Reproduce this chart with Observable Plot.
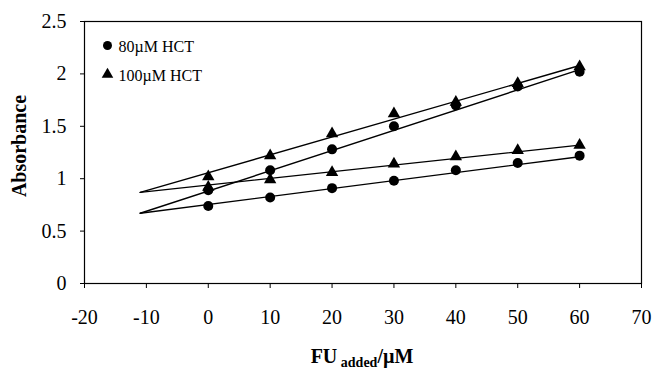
<!DOCTYPE html>
<html>
<head>
<meta charset="utf-8">
<script src="https://cdn.jsdelivr.net/npm/d3@7"></script>
<script src="https://cdn.jsdelivr.net/npm/@observablehq/plot@0.6"></script>
<style>
  html, body { margin: 0; padding: 0; background: white; }
</style>
</head>
<body>
<div id="chart"></div>
<script>
// ---- data ----
const xValues = [0, 10, 20, 30, 40, 50, 60];
const circleUpper = [0.89, 1.08, 1.28, 1.50, 1.70, 1.88, 2.02];
const circleLower = [0.74, 0.82, 0.91, 0.98, 1.08, 1.15, 1.22];
const triangleUpper = [1.02, 1.22, 1.43, 1.62, 1.73, 1.91, 2.07];
const triangleLower = [0.92, 0.99, 1.06, 1.14, 1.21, 1.27, 1.32];
// fitted lines (extended back to the H-point)
const fitX = [-11, 60];
const fitCircleUpper = [0.67, 2.04];
const fitCircleLower = [0.67, 1.21];
const fitTriangleUpper = [0.87, 2.08];
const fitTriangleLower = [0.87, 1.32];
const xTicks = [-20, -10, 0, 10, 20, 30, 40, 50, 60, 70];
const yTicks = [0, 0.5, 1, 1.5, 2, 2.5];
const legendLabels = ["80\u00B5M HCT", "100\u00B5M HCT"];
const yTitle = "Absorbance";
const xTitleMain = "FU";
const xTitleSub = "added";
const xTitleEnd = "/\u00B5M";

// ---- build tables ----
const pts = (ys, s) => xValues.map((x, i) => ({x, y: ys[i], s}));
const circles = [...pts(circleUpper, "c"), ...pts(circleLower, "c")];
const triangles = [...pts(triangleUpper, "t"), ...pts(triangleLower, "t")];
const fit = (ys, k) => fitX.map((x, i) => ({x, y: ys[i], k}));
const fits = [
  ...fit(fitCircleUpper, "cu"), ...fit(fitCircleLower, "cl"),
  ...fit(fitTriangleUpper, "tu"), ...fit(fitTriangleLower, "tl")
];

const serif = "'Liberation Serif', 'Times New Roman', serif";

const plot = Plot.plot({
  width: 655,
  height: 369,
  marginTop: 21,
  marginRight: 14,
  marginBottom: 86,
  marginLeft: 84,
  style: {fontFamily: serif, fontSize: "20px", color: "black", background: "white", overflow: "visible"},
  x: {domain: [-20, 70], ticks: xTicks, tickFormat: d => String(d), tickSize: 5, tickPadding: 21, label: null},
  y: {domain: [0, 2.5], ticks: yTicks, tickFormat: d => String(d), tickSize: 4, tickPadding: 14, label: null},
  marks: [
    Plot.frame({stroke: "black", strokeWidth: 1.2}),
    Plot.line(fits, {x: "x", y: "y", z: "k", stroke: "black", strokeWidth: 1.4}),
    Plot.dot(circles, {x: "x", y: "y", symbol: "circle", r: 5, fill: "black"}),
    Plot.dot(triangles, {x: "x", y: "y", symbol: "triangle", r: 4.6, fill: "black"}),
    // legend
    Plot.dot([0], {frameAnchor: "top-left", dx: 23, dy: 24, symbol: "circle", r: 4.5, fill: "black"}),
    Plot.dot([0], {frameAnchor: "top-left", dx: 23, dy: 53, symbol: "triangle", r: 4.3, fill: "black"}),
    Plot.text([legendLabels[0]], {text: d => d, frameAnchor: "top-left", dx: 34, dy: 25, textAnchor: "start", lineAnchor: "middle", fontSize: 16, fontFamily: serif, fill: "black"}),
    Plot.text([legendLabels[1]], {text: d => d, frameAnchor: "top-left", dx: 34, dy: 54, textAnchor: "start", lineAnchor: "middle", fontSize: 16, fontFamily: serif, fill: "black"})
  ]
});

document.getElementById("chart").appendChild(plot);

const svg = d3.select(plot);
// make tick labels match the reference size
svg.selectAll("g[aria-label$='tick label']").attr("font-size", 20).style("font-size", "20px");

// axis titles
svg.append("text")
  .attr("transform", "translate(26,146) rotate(-90)")
  .attr("text-anchor", "middle")
  .attr("font-family", serif)
  .attr("font-weight", "bold")
  .attr("font-size", 20)
  .attr("fill", "black")
  .text(yTitle);

const xt = svg.append("text")
  .attr("x", 362)
  .attr("y", 363)
  .attr("text-anchor", "middle")
  .attr("font-family", serif)
  .attr("font-weight", "bold")
  .attr("font-size", 20)
  .attr("fill", "black");
xt.append("tspan").text(xTitleMain);
xt.append("tspan").attr("font-size", 14).attr("dy", 4).text(" " + xTitleSub);
xt.append("tspan").attr("dy", -4).text(xTitleEnd);
</script>
</body>
</html>
